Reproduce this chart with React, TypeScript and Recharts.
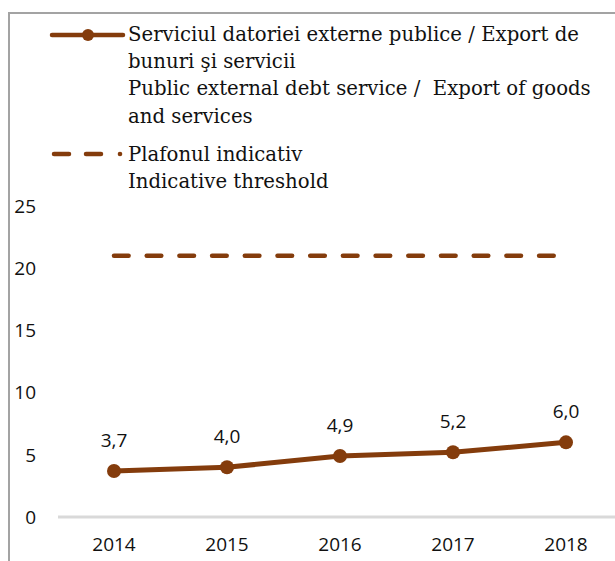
import React from 'react';
import { LineChart, Line, XAxis, YAxis, Legend, LabelList } from 'recharts';

const years = ['2014', '2015', '2016', '2017', '2018'];
const debtService = [3.7, 4.0, 4.9, 5.2, 6.0];
const threshold = [21, 21, 21, 21, 21];
const yTicks = [0, 5, 10, 15, 20, 25];

const debtLegendLines = [
  'Serviciul datoriei externe publice / Export de',
  'bunuri şi servicii',
  'Public external debt service /  Export of goods',
  'and services',
];
const thresholdLegendLines = ['Plafonul indicativ', 'Indicative threshold'];

const BROWN = '#843C0C';
const TEXT = '#111111';
const SERIF = '"DejaVu Serif", serif';
const SANS = '"Open Sans", sans-serif';

const data = years.map((y, i) => ({
  year: y,
  debt: debtService[i],
  threshold: threshold[i],
}));

const fmt = (v: any) => Number(v).toFixed(1).replace('.', ',');

const renderLegend = () => (
  <svg width={615} height={200} style={{ display: 'block' }}>
    <line x1={52} y1={35} x2={123} y2={35} stroke={BROWN} strokeWidth={4.5} strokeLinecap="round" />
    <circle cx={88} cy={35} r={6} fill={BROWN} />
    {debtLegendLines.map((t, i) => (
      <text key={t} x={128} y={41 + i * 27.2} fontFamily={SERIF} fontSize={19.7} fill={TEXT} style={{ whiteSpace: 'pre' }}>
        {t}
      </text>
    ))}
    <line x1={54} y1={154} x2={69} y2={154} stroke={BROWN} strokeWidth={4.5} strokeLinecap="round" />
    <line x1={86} y1={154} x2={101} y2={154} stroke={BROWN} strokeWidth={4.5} strokeLinecap="round" />
    <circle cx={120} cy={154} r={2.3} fill={BROWN} />
    {thresholdLegendLines.map((t, i) => (
      <text key={t} x={128} y={161 + i * 27} fontFamily={SERIF} fontSize={19.7} fill={TEXT}>
        {t}
      </text>
    ))}
  </svg>
);

export default function App() {
  return (
    <div
      style={{
        position: 'fixed',
        left: 0,
        top: 0,
        width: 615,
        height: 561,
        overflow: 'hidden',
        background: '#fff',
      }}
    >
      <div
        style={{
          position: 'absolute',
          left: 8,
          top: 12,
          width: 900,
          height: 900,
          borderLeft: '2px solid #a3a3a3',
          borderTop: '2px solid #a3a3a3',
        }}
      />
      <div style={{ position: 'absolute', left: 0, top: 0 }}>
        <LineChart
          width={622}
          height={561}
          data={data}
          margin={{ top: 206, right: 0, bottom: 0, left: 0 }}
        >
          <XAxis
            dataKey="year"
            axisLine={{ stroke: '#d9d9d9', strokeWidth: 3 }}
            tickLine={false}
            tickSize={0}
            tickMargin={21}
            height={44}
            padding={{ left: 56, right: 56 }}
            tick={{ fontFamily: SANS, fontSize: 19, fill: TEXT }}
            interval={0}
          />
          <YAxis
            domain={[0, 25]}
            ticks={yTicks}
            axisLine={false}
            tickLine={false}
            tickSize={0}
            tickMargin={22}
            width={58}
            tick={{ fontFamily: SANS, fontSize: 19, fill: TEXT }}
            interval={0}
          />
          <Legend
            layout="horizontal"
            verticalAlign="middle"
            align="center"
            wrapperStyle={{ top: 0, left: 0, width: 615, height: 200 }}
            content={renderLegend}
          />
          <Line
            dataKey="threshold"
            name="Plafonul indicativ / Indicative threshold"
            stroke={BROWN}
            strokeWidth={4.5}
            strokeDasharray="14.6 18.1"
            strokeLinecap="round"
            dot={false}
            activeDot={false}
            isAnimationActive={false}
          />
          <Line
            dataKey="debt"
            name="Serviciul datoriei externe publice / Export de bunuri şi servicii"
            stroke={BROWN}
            strokeWidth={5}
            dot={{ r: 7, fill: BROWN, stroke: BROWN, strokeWidth: 0 }}
            activeDot={false}
            isAnimationActive={false}
          >
            <LabelList
              dataKey="debt"
              position="top"
              offset={24}
              formatter={fmt}
              style={{ fontFamily: SANS, fontSize: 19, fill: TEXT }}
            />
          </Line>
        </LineChart>
      </div>
    </div>
  );
}
